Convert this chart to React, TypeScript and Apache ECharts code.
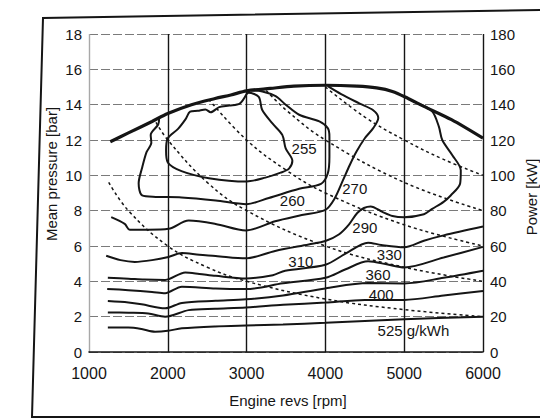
import React, { useEffect, useRef } from "react";
import * as echarts from "echarts";

const rpmTicks = [1000, 2000, 3000, 4000, 5000, 6000];
const pressureRange = [0, 18];
const powerRange = [0, 180];

const fullLoad = [[1270,11.9],[1500,12.4],[1800,13.05],[2000,13.5],[2300,14.0],[2600,14.35],[2800,14.55],[3000,14.78],[3300,14.92],[3600,15.05],[4000,15.1],[4400,15.05],[4650,14.95],[4850,14.75],[5050,14.35],[5250,13.9],[5600,13.15],[6000,12.1]];

const c255 = [[3000,14.6],[2913,14.06],[2780,13.95],[2652,13.86],[2543,13.57],[2478,13.73],[2380,13.65],[2283,13.6],[2226,13.18],[2130,12.63],[2000,12.1],[1978,11.41],[2000,10.73],[2174,10.24],[2522,9.84],[3000,9.65],[3239,9.87],[3432,10.15],[3538,10.38],[3581,10.82],[3496,11.52],[3453,12.29],[3325,12.95],[3197,13.71],[3154,14.44],[3026,14.67],[3000,14.6]];

const c260 = [[1891,13.27],[1878,12.88],[1783,12.29],[1791,11.84],[1730,11.31],[1674,10.43],[1630,9.55],[1674,8.86],[1848,8.78],[2174,8.75],[2609,8.58],[3000,8.37],[3282,8.72],[3667,9.24],[3944,9.52],[4030,10.1],[4051,11.05],[4051,12.19],[4030,12.67],[3923,13.05],[3667,13.43],[3496,14.0],[3368,14.48],[3200,14.75],[3050,14.8]];

const c270 = [[1282,7.63],[1453,7.25],[1517,6.92],[1752,6.92],[2009,6.97],[2265,7.44],[2607,7.25],[2991,6.88],[3362,7.4],[3700,7.75],[4000,8.05],[4115,8.67],[4222,9.71],[4308,10.57],[4393,11.33],[4500,12.1],[4607,12.67],[4671,13.24],[4607,13.68],[4436,14.06],[4200,14.6],[4030,15.05]];

const c290 = [[1218,5.45],[1400,5.2],[1581,5.1],[1800,5.2],[2009,5.38],[2179,5.6],[2400,5.5],[2607,5.44],[2991,5.3],[3362,5.72],[3787,6.09],[4000,6.28],[4170,6.65],[4298,7.21],[4404,7.87],[4489,8.15],[4574,8.24],[4723,7.93],[4851,7.7],[5000,7.63],[5250,7.8],[5355,8.1],[5500,8.5],[5590,8.86],[5709,9.52],[5718,10.29],[5611,11.14],[5483,12.0],[5440,12.76],[5355,13.62],[5184,14.05]];

const c310 = [[1239,4.2],[1500,4.15],[1700,4.1],[1966,4.08],[2222,4.5],[2400,4.42],[2607,4.31],[2991,4.16],[3333,4.35],[3489,4.6],[4000,4.94],[4250,5.55],[4542,6.19],[4708,6.06],[5000,5.93],[5250,6.3],[5500,6.6],[6000,7.1]];

const c330 = [[1231,3.57],[1500,3.5],[1800,3.4],[1966,3.33],[2179,3.7],[2607,3.59],[2991,3.56],[3462,3.89],[4000,4.2],[4250,4.67],[4542,5.13],[4792,4.95],[5000,4.79],[5500,5.35],[6000,5.95]];

const c360 = [[1239,2.88],[1500,2.8],[1667,2.7],[1966,2.47],[2179,2.78],[2607,2.9],[2991,2.98],[3462,3.2],[4000,3.6],[4542,3.9],[5000,3.88],[5500,4.2],[6000,4.6]];

const c400 = [[1239,2.24],[1500,2.22],[1752,2.18],[1966,2.0],[2265,2.37],[2600,2.45],[2991,2.52],[3462,2.67],[4000,2.8],[4500,2.95],[5000,2.95],[5500,3.2],[6000,3.45]];

const c525 = [[1239,1.38],[1500,1.38],[1667,1.3],[1838,1.15],[2000,1.2],[2179,1.34],[2600,1.45],[2991,1.5],[3462,1.55],[4000,1.65],[5000,1.85],[6000,2.0]];

const p20 = [[1250,9.6],[1500,8.0],[2000,6.0],[2500,4.8],[3000,4.0],[4000,3.0],[5000,2.4],[6000,2.0]];
const p40 = [[1850,13.0],[2000,12.0],[2500,9.6],[3000,8.0],[4000,6.0],[5000,4.8],[6000,4.0]];
const p60 = [[2520,14.3],[3000,12.0],[3500,10.3],[4000,9.0],[5000,7.2],[6000,6.0]];
const p80 = [[3250,14.8],[3500,13.7],[4000,12.0],[5000,9.6],[6000,8.0]];
const p100 = [[4000,15.0],[4500,13.3],[5000,12.0],[5500,10.9],[6000,10.0]];

const contourLabels = [
  { name: "255", value: [3730, 11.5] },
  { name: "260", value: [3581, 8.57] },
  { name: "270", value: [4372, 9.24] },
  { name: "290", value: [4500, 7.07] },
  { name: "310", value: [3688, 5.13] },
  { name: "330", value: [4812, 5.5] },
  { name: "360", value: [4667, 4.39] },
  { name: "400", value: [4708, 3.28] },
  { name: "525 g/kWh", value: [5117, 1.24] },
];

const FONT = "'Liberation Sans', Arial, sans-serif";
const INK = "#151515";

export default function App() {
  const ref = useRef<HTMLDivElement>(null);
  useEffect(() => {
    if (!ref.current) return;
    const chart = echarts.init(ref.current, undefined, { renderer: "svg" });
    const solid = (data: number[][], w = 2) => ({
      type: "line",
      data,
      showSymbol: false,
      smooth: 0.3,
      silent: true,
      lineStyle: { color: INK, width: w },
      z: 3,
    });
    const dashed = (data: number[][]) => ({
      type: "line",
      data,
      showSymbol: false,
      smooth: 0.4,
      silent: true,
      lineStyle: { color: INK, width: 1.5, type: [3, 3] },
      z: 2,
    });
    chart.setOption({
      animation: false,
      backgroundColor: "#ffffff",
      grid: { left: 89, right: 57, top: 34, bottom: 67 },
      xAxis: {
        type: "value",
        min: rpmTicks[0],
        max: rpmTicks[rpmTicks.length - 1],
        interval: 1000,
        axisLine: { show: true, lineStyle: { color: INK, width: 1.6 } },
        axisTick: { show: false },
        axisLabel: { color: INK, fontSize: 16, fontFamily: FONT, margin: 13, formatter: (v: number) => String(v) },
        splitLine: {
          show: true,
          lineStyle: { color: ["#a8a8a8", INK, INK, INK, INK, INK], width: 1.4 },
        },
      },
      yAxis: [
        {
          type: "value",
          min: pressureRange[0],
          max: pressureRange[1],
          interval: 2,
          axisLine: { show: false },
          axisTick: { show: false },
          axisLabel: { color: INK, fontSize: 15, fontFamily: FONT, margin: 7 },
          splitLine: { show: true, lineStyle: { color: "#7a7a7a", width: 1.2, type: [9, 3] } },
        },
        {
          type: "value",
          position: "right",
          min: powerRange[0],
          max: powerRange[1],
          interval: 20,
          axisLine: { show: false },
          axisTick: { show: false },
          axisLabel: { color: INK, fontSize: 15, fontFamily: FONT, margin: 7 },
          splitLine: { show: false },
        },
      ],
      graphic: [
        {
          type: "polyline",
          shape: { points: [[540, 10], [43, 18], [32, 417], [540, 417]] },
          style: { stroke: INK, lineWidth: 2, fill: null },
        },
        {
          type: "text",
          x: 51,
          y: 174,
          rotation: Math.PI / 2,
          style: { text: "Mean pressure [bar]", font: `15px ${FONT}`, fill: INK, align: "center", verticalAlign: "middle" },
        },
        {
          type: "text",
          x: 531,
          y: 197,
          rotation: Math.PI / 2,
          style: { text: "Power [kW]", font: `15px ${FONT}`, fill: INK, align: "center", verticalAlign: "middle" },
        },
        {
          type: "text",
          x: 288,
          y: 400,
          style: { text: "Engine revs [rpm]", font: `15px ${FONT}`, fill: INK, align: "center", verticalAlign: "middle" },
        },
      ],
      series: [
        solid(fullLoad, 3.2),
        solid(c255),
        solid(c260),
        solid(c270),
        solid(c290),
        solid(c310),
        solid(c330),
        solid(c360),
        solid(c400),
        solid(c525),
        dashed(p20),
        dashed(p40),
        dashed(p60),
        dashed(p80),
        dashed(p100),
        {
          type: "scatter",
          data: contourLabels,
          symbolSize: 0,
          silent: true,
          z: 5,
          itemStyle: { opacity: 1 },
          label: {
            show: true,
            position: "inside",
            formatter: "{b}",
            color: INK,
            opacity: 1,
            fontSize: 15,
            fontFamily: FONT,
          },
        },
      ],
    });
    return () => chart.dispose();
  }, []);
  return <div ref={ref} style={{ width: 540, height: 419, position: "absolute", left: 0, top: 0 }} />;
}
